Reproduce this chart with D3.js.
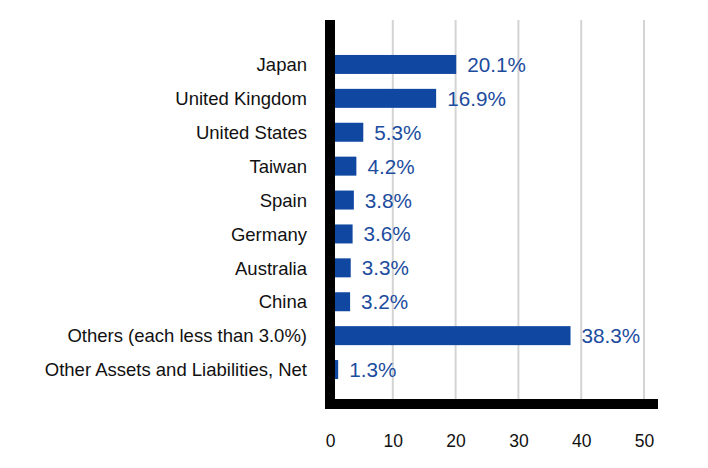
<!DOCTYPE html>
<html>
<head>
<meta charset="utf-8">
<script src="https://cdn.jsdelivr.net/npm/d3@7"></script>
<style>
  html, body { margin: 0; padding: 0; background: #fff; }
  svg { display: block; }
</style>
</head>
<body>
<svg id="chart" width="708" height="468"></svg>
<script>
const categories = [
  "Japan", "United Kingdom", "United States", "Taiwan", "Spain",
  "Germany", "Australia", "China", "Others (each less than 3.0%)",
  "Other Assets and Liabilities, Net"
];
const values = [20.1, 16.9, 5.3, 4.2, 3.8, 3.6, 3.3, 3.2, 38.3, 1.3];
const valueLabels = ["20.1%", "16.9%", "5.3%", "4.2%", "3.8%", "3.6%", "3.3%", "3.2%", "38.3%", "1.3%"];
const xTicks = [0, 10, 20, 30, 40, 50];

const data = categories.map((c, i) => ({ cat: c, val: values[i], label: valueLabels[i] }));

const svg = d3.select("#chart");
const font = "Liberation Sans, Arial, Helvetica, sans-serif";

const x = d3.scaleLinear().domain([0, 50]).range([330, 644]);
const y = d3.scaleBand().domain(categories).range([47.5, 386.5])
  .paddingInner(0.44).paddingOuter(0.22);

const plotTop = 20, plotBottom = 399;

// gridlines
svg.append("g").selectAll("line").data(xTicks).join("line")
  .attr("x1", d => x(d)).attr("x2", d => x(d))
  .attr("y1", plotTop).attr("y2", plotBottom)
  .attr("stroke", "#d4d4d4").attr("stroke-width", 2);

// bars
svg.append("g").selectAll("rect").data(data).join("rect")
  .attr("x", x(0))
  .attr("y", d => y(d.cat))
  .attr("width", d => x(d.val) - x(0))
  .attr("height", y.bandwidth())
  .attr("fill", "#0f47a1");

// value labels
svg.append("g").selectAll("text").data(data).join("text")
  .attr("x", d => x(d.val) + 11)
  .attr("y", d => y(d.cat) + y.bandwidth() / 2)
  .attr("dy", "0.36em")
  .attr("font-family", font)
  .attr("font-size", 20.7)
  .attr("fill", "#1c4c9e")
  .text(d => d.label);

// category axis labels
const yAxis = d3.axisLeft(y).tickSize(0).tickPadding(0);
const gy = svg.append("g").attr("transform", "translate(307,0)").call(yAxis);
gy.select(".domain").remove();
gy.selectAll("text")
  .attr("font-family", font)
  .attr("font-size", 18.5)
  .attr("fill", "#111")
  .attr("dy", "0.36em");

// x axis tick labels
const xAxis = d3.axisBottom(x).tickValues(xTicks).tickSize(0).tickPadding(0).tickFormat(d3.format("d"));
const gx = svg.append("g").attr("transform", "translate(0,447)").call(xAxis);
gx.select(".domain").remove();
gx.selectAll("text")
  .attr("font-family", font)
  .attr("font-size", 17.5)
  .attr("fill", "#111")
  .attr("dy", "0");

// thick black axes
svg.append("rect").attr("x", 325).attr("y", plotTop).attr("width", 10).attr("height", 409 - plotTop).attr("fill", "#000");
svg.append("rect").attr("x", 325).attr("y", 399).attr("width", 658 - 325).attr("height", 10).attr("fill", "#000");
</script>
</body>
</html>
